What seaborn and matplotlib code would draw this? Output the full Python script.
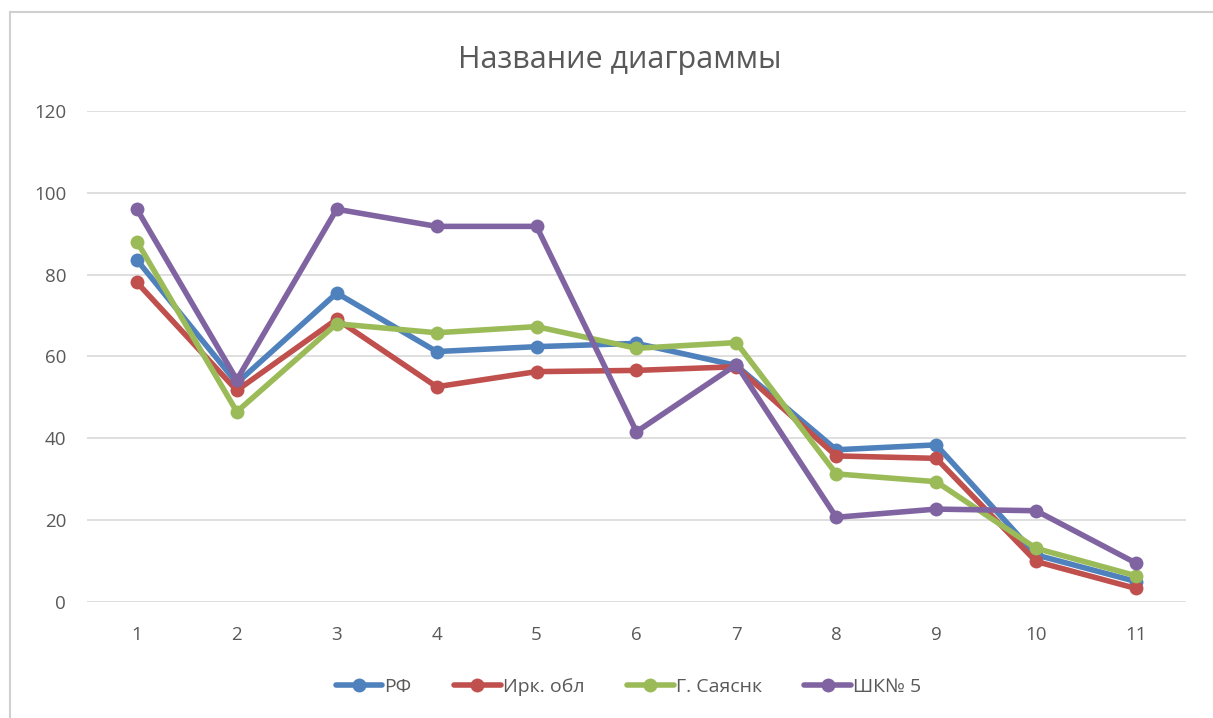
import matplotlib
matplotlib.use("Agg")
import matplotlib.pyplot as plt
import seaborn as sns
import pandas as pd
from matplotlib.patches import Rectangle

# Categories along the horizontal axis
categories = [1, 2, 3, 4, 5, 6, 7, 8, 9, 10, 11]

# Series values
rf = [83.6, 53.5, 75.5, 61.2, 62.4, 63.2, 57.8, 37.2, 38.4, 11.5, 5.0]
irk = [78.1, 51.7, 69.1, 52.6, 56.3, 56.6, 57.5, 35.7, 35.1, 9.9, 3.3]
sayansk = [88.1, 46.5, 68.0, 65.8, 67.3, 62.0, 63.4, 31.3, 29.4, 13.1, 6.4]
shk5 = [96.0, 54.3, 96.0, 91.8, 91.8, 41.6, 58.0, 20.7, 22.7, 22.3, 9.5]

series_names = ["РФ", "Ирк. обл", "Г. Саяснк", "ШК№ 5"]
series_values = [rf, irk, sayansk, shk5]
colors = ["#4F81BD", "#C0504D", "#9BBB59", "#8064A2"]

y_ticks = [0, 20, 40, 60, 80, 100, 120]

records = []
for name, vals in zip(series_names, series_values):
    for c, v in zip(categories, vals):
        records.append({"cat": c, "value": v, "series": name})
df = pd.DataFrame(records)

sns.set_theme(style="white")
plt.rcParams["font.family"] = ["Open Sans", "DejaVu Sans"]

fig = plt.figure(figsize=(12.13, 7.18), dpi=100)
ax = fig.add_axes([0.0717, 0.1616, 0.9060, 0.6838])

sns.lineplot(
    data=df, x="cat", y="value", hue="series", hue_order=series_names,
    palette=colors, marker="o", markersize=10, markeredgewidth=0,
    linewidth=4.0, ax=ax, legend=True, zorder=3,
)

ax.set_xlim(0.5, 11.5)
ax.set_ylim(0, 120)
ax.set_xticks(categories)
ax.set_xticklabels([str(c) for c in categories])
ax.set_yticks(y_ticks)
ax.set_xlabel("")
ax.set_ylabel("")
ax.grid(axis="y", color="#D9D9D9", linewidth=1.2, zorder=0)
ax.grid(axis="x", visible=False)
for s in ax.spines.values():
    s.set_visible(False)
ax.tick_params(axis="both", length=0, labelsize=13.5, labelcolor="#595959")
ax.tick_params(axis="x", pad=17)
ax.tick_params(axis="y", pad=15)

fig.text(0.511, 0.916, "Название диаграммы", fontsize=22, color="#595959",
         ha="center", va="center")

handles, labels = ax.get_legend_handles_labels()
ax.get_legend().remove()
fig.legend(handles, labels, loc="center", bbox_to_anchor=(0.518, 0.043),
           ncol=4, frameon=False, fontsize=14, labelcolor="#595959",
           handlelength=2.4, handletextpad=0.1, columnspacing=2.2)

# Chart area border
fig.add_artist(Rectangle((0.008, -0.01), 1.0, 0.993, transform=fig.transFigure,
                         fill=False, edgecolor="#D0D0D0", linewidth=1.5))

fig.savefig("out.png", dpi=100, facecolor="white")
